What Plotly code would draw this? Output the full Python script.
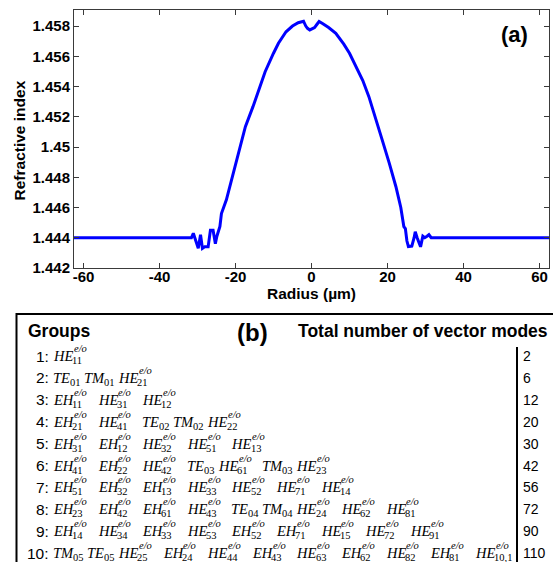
import plotly.graph_objects as go

# ---- refractive index profile -------------------------------------------
radius = [-62.5, -31.6, -31.1, -30.5, -29.8, -29.2, -28.7, -28.1, -27.2, -26.6,
          -25.9, -25.3, -24.9, -24.1, -23.7, -22.4, -20.6, -18.9, -17.4, -15.4,
          -12.2, -10.0, -8.7, -6.7, -5.0, -3.5, -2.4, -2.1, -1.5, -1.05, -0.45,
          0.26, 0.8, 1.4, 2.0, 3.0, 4.5, 6.4, 8.5, 10.0, 11.65, 13.5, 15.1, 16.8,
          18.6, 20.5, 22.2, 23.5, 24.3, 24.7, 25.1, 25.5, 26.4, 27.0, 27.3, 27.8,
          28.3, 28.7, 29.3, 29.8, 30.4, 30.9, 31.5, 62.5]
refractive_index = [1.4440, 1.4440, 1.4443, 1.4439, 1.4433, 1.4442, 1.4433, 1.4434,
                    1.4434, 1.4445, 1.4445, 1.4436, 1.4441, 1.44475, 1.4456, 1.44651,
                    1.44827, 1.45003, 1.45135, 1.45267, 1.45498, 1.45620, 1.45686,
                    1.45762, 1.45800, 1.45822, 1.45828, 1.45832, 1.45800, 1.45785,
                    1.45774, 1.45785, 1.45790, 1.45810, 1.45830, 1.45815, 1.45790,
                    1.45752, 1.45680, 1.45620, 1.45531, 1.45440, 1.45333, 1.45200,
                    1.45047, 1.44890, 1.44739, 1.44600, 1.44474, 1.44460, 1.44380,
                    1.44342, 1.44345, 1.44400, 1.44440, 1.44400, 1.44360, 1.44340,
                    1.44410, 1.44400, 1.44410, 1.44420, 1.44400, 1.44400]

x_tick_values = [-60, -40, -20, 0, 20, 40, 60]
y_tick_values = [1.442, 1.444, 1.446, 1.448, 1.450, 1.452, 1.454, 1.456, 1.458]
y_tick_labels = ["1.442", "1.444", "1.446", "1.448", "1.45", "1.452", "1.454", "1.456", "1.458"]

# ---- mode groups: (field letters, subscript, has e/o superscript) --------
group_numbers = [1, 2, 3, 4, 5, 6, 7, 8, 9, 10]
group_modes = [
    [("HE", "11", True)],
    [("TE", "01", False), ("TM", "01", False), ("HE", "21", True)],
    [("EH", "11", True), ("HE", "31", True), ("HE", "12", True)],
    [("EH", "21", True), ("HE", "41", True), ("TE", "02", False), ("TM", "02", False),
     ("HE", "22", True)],
    [("EH", "31", True), ("EH", "12", True), ("HE", "32", True), ("HE", "51", True),
     ("HE", "13", True)],
    [("EH", "41", True), ("EH", "22", True), ("HE", "42", True), ("TE", "03", False),
     ("HE", "61", True), ("TM", "03", False), ("HE", "23", True)],
    [("EH", "51", True), ("EH", "32", True), ("EH", "13", True), ("HE", "33", True),
     ("HE", "52", True), ("HE", "71", True), ("HE", "14", True)],
    [("EH", "23", True), ("EH", "42", True), ("EH", "61", True), ("HE", "43", True),
     ("TE", "04", False), ("TM", "04", False), ("HE", "24", True), ("HE", "62", True),
     ("HE", "81", True)],
    [("EH", "14", True), ("HE", "34", True), ("EH", "33", True), ("HE", "53", True),
     ("EH", "52", True), ("EH", "71", True), ("HE", "15", True), ("HE", "72", True),
     ("HE", "91", True)],
    [("TM", "05", False), ("TE", "05", False), ("HE", "25", True), ("EH", "24", True),
     ("HE", "44", True), ("EH", "43", True), ("HE", "63", True), ("EH", "62", True),
     ("HE", "82", True), ("EH", "81", True), ("HE", "10,1", True)],
]
total_vector_modes = [2, 6, 12, 20, 30, 42, 56, 72, 90, 110]

# ---- page geometry -------------------------------------------------------
W, H = 553, 562
ML, MR, MT, MB = 74, 4, 10, 294
PW, PH = W - ML - MR, H - MT - MB


def xp(px):
    return (px - ML) / PW


def yp(py):
    return (H - MB - py) / PH


SANS = "Liberation Sans, Arial, sans-serif"
SERIF = "Liberation Serif, Times New Roman, serif"
AXIS_COLOR = "#3a3a3a"

fig = go.Figure()
fig.add_trace(go.Scatter(x=radius, y=refractive_index, mode="lines",
                         line=dict(color="#0000FF", width=3), showlegend=False,
                         hoverinfo="skip"))

axis_common = dict(showgrid=False, zeroline=False, showline=True, linecolor=AXIS_COLOR,
                   linewidth=1, mirror="ticks", ticks="inside", ticklen=5,
                   tickcolor=AXIS_COLOR, tickwidth=1,
                   tickfont=dict(family=SANS, size=15, color="black", weight="bold"))
fig.update_xaxes(range=[-62.5, 62.5], tickvals=x_tick_values,
                 ticktext=[str(v) for v in x_tick_values], ticklabelstandoff=-5,
                 **axis_common)
fig.update_yaxes(range=[1.442, 1.45906], tickvals=y_tick_values,
                 ticktext=y_tick_labels, **axis_common)

ann = []


def text(px, py, s, size, family=SANS, xanchor="left", weight="normal", style="normal",
         angle=0):
    ann.append(dict(x=xp(px), y=yp(py), xref="paper", yref="paper", text=s,
                    showarrow=False, xanchor=xanchor, yanchor="middle", textangle=angle,
                    borderpad=0,
                    font=dict(family=family, size=size, color="black", weight=weight,
                              style=style)))


# axis titles and panel label
text(311, 293, "Radius (\u00b5m)", 15.5, xanchor="center", weight="bold")
text(18.5, 141, "Refractive index", 15.5, xanchor="center", weight="bold", angle=-90)
text(514, 34, "(a)", 22, xanchor="center", weight="bold")

# table header
text(27, 331, "Groups", 17.5, weight="bold")
text(252, 332, "(b)", 24, xanchor="center", weight="bold")
text(549, 331, "Total number of vector modes", 17.5, xanchor="right", weight="bold")

# approximate advance widths (em) for the italic serif letters and scripts
GLYPH_W = {"H": 0.722, "E": 0.611, "T": 0.556, "M": 0.833, "e": 0.444, "/": 0.278,
           "o": 0.5, ",": 0.25}
for d in "0123456789":
    GLYPH_W[d] = 0.5


def width(s, size):
    return sum(GLYPH_W[c] for c in s) * size


BASE, SCRIPT = 14.5, 10.5
ROW_Y0, ROW_DY = 356, 21.9
TERM_X0 = 52
ITALIC_KERN = 1.5  # superscript clears the slanted top of the last capital

for i, (num, modes, total) in enumerate(zip(group_numbers, group_modes, total_vector_modes)):
    y = ROW_Y0 + i * ROW_DY
    text(50, y, f"{num}:", 15.5, xanchor="right")
    x = TERM_X0
    for letters, sub, eo in modes:
        text(x, y, letters, BASE, family=SERIF, style="italic")
        x += width(letters, BASE)
        text(x, y + 4.5, sub, SCRIPT, family=SERIF)
        sw = width(sub, SCRIPT)
        if eo:
            text(x + ITALIC_KERN, y - 7.5, "e/o", SCRIPT, family=SERIF, style="italic")
            sw = max(sw, width("e/o", SCRIPT) * 1.15)
        x += sw + (10.5 if eo else 3.5)
    text(522, y, str(total), 14)

shapes = [
    dict(type="rect", xref="paper", yref="paper", x0=xp(16.5), x1=xp(570), y0=yp(314),
         y1=yp(580), line=dict(color="black", width=2)),
    dict(type="line", xref="paper", yref="paper", x0=xp(517), x1=xp(517), y0=yp(347),
         y1=yp(580), line=dict(color="black", width=2)),
]

fig.update_layout(width=W, height=H, margin=dict(l=ML, r=MR, t=MT, b=MB),
                  paper_bgcolor="white", plot_bgcolor="white", annotations=ann,
                  shapes=shapes, showlegend=False)

fig.write_html("out.html")
